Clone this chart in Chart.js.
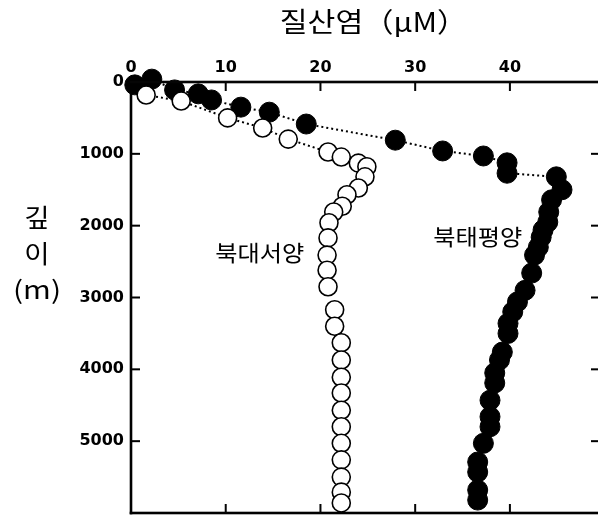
<!DOCTYPE html>
<html>
<head>
<meta charset="utf-8">
<script src="https://cdn.jsdelivr.net/npm/chart.js@4.4.0/dist/chart.umd.min.js"></script>
<style>
  html, body { margin: 0; padding: 0; background: #fff; overflow: hidden; }
  canvas { display: block; }
</style>
</head>
<body>
<canvas id="myChart" width="598" height="515"></canvas>
<script>
// Nitrate (uM) and depth (m)
const pacificNitrate = [0.4, 2.2, 4.6, 7.1, 8.5, 11.6, 14.6, 18.5, 27.9, 32.9, 37.2, 39.7, 39.7, 44.9, 45.5,
  44.4, 44.1, 44.0, 43.5, 43.3, 43.0, 42.6, 42.3, 41.6, 40.8, 40.3, 39.8, 39.8, 39.2, 38.9,
  38.4, 38.4, 37.9, 37.9, 37.9, 37.2, 36.6, 36.6, 36.6, 36.6];
const pacificDepth = [40, -40, 110, 165, 250, 350, 420, 585, 810, 960, 1030, 1125, 1270, 1320, 1500,
  1640, 1810, 1950, 2060, 2160, 2300, 2410, 2660, 2900, 3060, 3200, 3360, 3500, 3760, 3870,
  4050, 4190, 4430, 4660, 4800, 5030, 5290, 5430, 5680, 5820];

const atlanticNitrate = [1.6, 5.3, 10.2, 13.9, 16.6, 20.8, 22.2, 24.0, 24.9, 24.7, 24.0, 22.8, 22.3, 21.4,
  20.9, 20.8, 20.7, 20.7, 20.8, 21.5, 21.5, 22.2, 22.2, 22.2, 22.2, 22.2, 22.2, 22.2, 22.2,
  22.2, 22.2, 22.2];
const atlanticDepth = [181, 265, 500, 640, 795, 975, 1045, 1130, 1180, 1320, 1475, 1570, 1730, 1810,
  1960, 2170, 2410, 2620, 2850, 3170, 3400, 3630, 3870, 4110, 4330, 4570, 4800, 5030, 5260,
  5500, 5710, 5860];

// dotted line only joins the upper part of each profile
const pacificLineEnd = 13;
const atlanticLineEnd = 5;

const xTicks = [0, 10, 20, 30, 40];
const yTicks = [0, 1000, 2000, 3000, 4000, 5000];

const xTitle = '질산염（μM）';
const yTitle = ['깊', '이', '(m)'];
const seriesLabels = ['북태평양', '북대서양'];
const labelNitrate = [36.6, 13.6];
const labelDepth = [2158, 2380];

function toPoints(xs, ys) {
  return xs.map((v, i) => ({ x: v, y: ys[i] }));
}

// korean text in the figure is a little wider than the font
function wideText(ctx, s, x, y, font, sx) {
  ctx.save();
  ctx.translate(x, y);
  ctx.scale(sx, 1);
  ctx.font = font;
  ctx.fillText(s, 0, 0);
  ctx.restore();
}

// axes frame with inward ticks, titles, series names
const framePlugin = {
  id: 'frame',
  afterDraw(chart) {
    const ctx = chart.ctx;
    const a = chart.chartArea;
    const xs = chart.scales.x;
    const ys = chart.scales.y;
    const w = 2.6;
    ctx.save();
    ctx.fillStyle = '#000';
    ctx.fillRect(a.left - w / 2, a.bottom - w / 2, a.right - a.left + w, w);
    ctx.fillRect(a.left - w / 2, a.top - w / 2, w, a.bottom - a.top + w);
    ctx.fillStyle = '#050505';
    ctx.fillRect(a.left - w / 2, a.top - w / 2, a.right - a.left + w, w);

    ctx.fillStyle = '#050505';
    xTicks.forEach(t => {
      if (t == 0) return;
      const px = xs.getPixelForValue(t);
      ctx.fillRect(px - 1, a.top, 2, 9);
      ctx.fillRect(px - 1, a.bottom - 9, 2, 9);
    });
    ctx.fillStyle = '#000';
    yTicks.forEach(t => {
      if (t == 0) return;
      const py = ys.getPixelForValue(t);
      ctx.fillRect(a.left, py - 1, 9, 2);
      ctx.fillRect(a.right - 7, py - 1, 7, 2);
    });

    ctx.textAlign = 'center';
    ctx.textBaseline = 'middle';
    wideText(ctx, xTitle, (a.left + a.right) / 2 + 9, 22, '27px "Noto Sans CJK KR"', 1.12);
    yTitle.forEach((s, i) => wideText(ctx, s, 37, 217 + i * 36, '25px "Noto Sans CJK KR"', i == 2 ? 1.2 : 1.1));

    seriesLabels.forEach((s, i) => {
      wideText(ctx, s, xs.getPixelForValue(labelNitrate[i]), ys.getPixelForValue(labelDepth[i]),
        '22px "Noto Sans CJK KR"', 1.1);
    });
    ctx.restore();
  }
};

const ctx = document.getElementById('myChart');

const myChart = new Chart(ctx, {
  type: 'scatter',
  data: {
    datasets: [{
      label: seriesLabels[1],
      data: toPoints(atlanticNitrate, atlanticDepth),
      showLine: true,
      borderColor: '#000',
      borderWidth: 2,
      borderDash: [2, 3],
      segment: {
        borderColor: c => c.p1DataIndex > atlanticLineEnd ? 'rgba(0,0,0,0)' : '#000'
      },
      pointRadius: 9,
      pointBackgroundColor: '#fff',
      pointBorderColor: '#000',
      pointBorderWidth: 1.6,
      clip: false
    }, {
      label: seriesLabels[0],
      data: toPoints(pacificNitrate, pacificDepth),
      showLine: true,
      borderColor: '#000',
      borderWidth: 2,
      borderDash: [2, 3],
      segment: {
        borderColor: c => c.p1DataIndex > pacificLineEnd ? 'rgba(0,0,0,0)' : '#000'
      },
      pointRadius: 10,
      pointBackgroundColor: '#000',
      pointBorderColor: '#000',
      pointBorderWidth: 1,
      clip: false
    }]
  },
  options: {
    responsive: false,
    animation: false,
    devicePixelRatio: 1,
    layout: { autoPadding: false, padding: { left: 0, right: 0, top: 0, bottom: 2 } },
    plugins: {
      legend: { display: false },
      tooltip: { enabled: false }
    },
    scales: {
      x: {
        type: 'linear',
        position: 'top',
        min: 0,
        max: 49.3,
        grid: { display: false, drawTicks: false },
        border: { display: false },
        afterBuildTicks: s => { s.ticks = xTicks.map(v => ({ value: v })); },
        afterFit: s => { s.height = 82; s.paddingLeft = 0; s.paddingRight = 0; },
        ticks: {
          padding: 5,
          color: '#000',
          font: { family: 'DejaVu Sans', size: 16, weight: 'bold' }
        }
      },
      y: {
        type: 'linear',
        position: 'left',
        reverse: true,
        min: 0,
        max: 6000,
        grid: { display: false, drawTicks: false },
        border: { display: false },
        afterBuildTicks: s => { s.ticks = yTicks.map(v => ({ value: v })); },
        afterFit: s => { s.width = 131; s.paddingTop = 0; s.paddingBottom = 0; },
        ticks: {
          padding: 7,
          color: '#000',
          font: { family: 'DejaVu Sans', size: 16, weight: 'bold' },
          callback: v => String(v)
        }
      }
    }
  },
  plugins: [framePlugin]
});
</script>
</body>
</html>
